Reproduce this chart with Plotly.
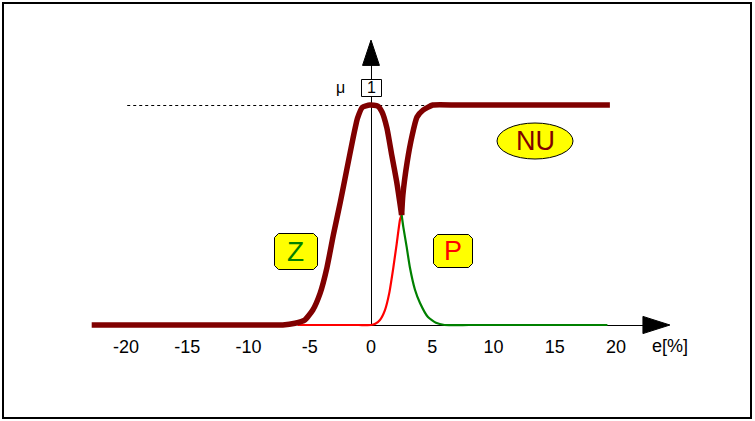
import plotly.graph_objects as go

# ---- data ----
tick_vals = [-20, -15, -10, -5, 0, 5, 10, 15, 20]
tick_text = ["-20", "-15", "-10", "-5", "0", "5", "10", "15", "20"]

# thick dark-red curve, part 1 (flat, rise to 1, fall to crossing)
thick1_x = [-22.8, -18.0, -13.0, -9.0, -7.2, -6.2, -5.4, -4.75, -4.15, -3.6, -3.07, -2.5, -2.0, -1.5, -1.1, -0.7, -0.1, 0.55, 0.9, 1.3, 1.7, 2.1, 2.5]
thick1_y = [0.0, 0.0, 0.0, 0.0, 0.0, 0.008, 0.023, 0.068, 0.145, 0.26, 0.41, 0.56, 0.70, 0.84, 0.94, 0.99, 1.0, 0.995, 0.968, 0.895, 0.77, 0.65, 0.5]
# thick dark-red curve, part 2 (NU: crossing up to 1, flat)
thick2_x = [2.5, 2.6, 2.95, 3.35, 3.75, 4.25, 5.05, 7.0, 10.0, 14.0, 19.5]
thick2_y = [0.5, 0.59, 0.74, 0.86, 0.945, 0.977, 1.0, 1.0, 1.0, 1.0, 1.0]

# thin red curve (P)
red_x = [-6.0, -3.0, -1.0, 0.0, 0.35, 0.73, 1.14, 1.49, 1.82, 2.1, 2.37, 2.5]
red_y = [0.0, 0.0, 0.0, 0.0, 0.006, 0.023, 0.068, 0.145, 0.26, 0.37, 0.48, 0.5]
# thin green curve (Z tail)
green_x = [2.5, 2.64, 2.91, 3.18, 3.59, 4.0, 4.65, 5.3, 6.0, 8.0, 12.0, 16.0, 19.3]
green_y = [0.5, 0.445, 0.355, 0.26, 0.16, 0.10, 0.036, 0.01, 0.0, 0.0, 0.0, 0.0, 0.0]

DARK = "#800000"
RED = "#ff0000"
GREEN = "#008000"
FONT = "Liberation Sans, Arial, sans-serif"

W, H = 755, 421
X0PX, PXX = 371, 12.25   # pixel of x=0, pixels per unit
Y0PX, PXY = 325, 220     # pixel of y=0, pixels per unit
xr = [-X0PX / PXX, (W - X0PX) / PXX]
yr = [-(H - Y0PX) / PXY, Y0PX / PXY]
HX = 0.5 / PXX   # half pixel in x data units (crisp 1px lines)
HY = 0.5 / PXY   # half pixel in y data units

fig = go.Figure()
fig.add_trace(go.Scatter(x=red_x, y=red_y, mode="lines", line=dict(color=RED, width=2.2, shape="spline", smoothing=0.5), hoverinfo="skip"))
fig.add_trace(go.Scatter(x=green_x, y=green_y, mode="lines", line=dict(color=GREEN, width=2.2, shape="spline", smoothing=0.5), hoverinfo="skip"))
fig.add_trace(go.Scatter(x=thick1_x, y=thick1_y, mode="lines", line=dict(color=DARK, width=5.5, shape="spline", smoothing=0.5), hoverinfo="skip"))
fig.add_trace(go.Scatter(x=thick2_x, y=thick2_y, mode="lines", line=dict(color=DARK, width=5.5, shape="spline", smoothing=0.5), hoverinfo="skip"))

shapes = []
# x axis line and arrow
shapes.append(dict(type="line", xref="x", yref="y", x0=0, x1=22.3, y0=-HY, y1=-HY, line=dict(color="black", width=1), layer="below"))
shapes.append(dict(type="path", xref="x", yref="y", path="M 22.2 0.039 L 24.4 0 L 22.2 -0.039 Z", fillcolor="black", line=dict(color="black", width=1)))
# y axis line and arrow
shapes.append(dict(type="line", xref="x", yref="y", x0=HX, x1=HX, y0=0, y1=1.19, line=dict(color="black", width=1), layer="below"))
shapes.append(dict(type="path", xref="x", yref="y", path="M -0.69 1.18 L 0 1.295 L 0.69 1.18 Z", fillcolor="black", line=dict(color="black", width=1)))
# dashed level-1 line
shapes.append(dict(type="line", xref="x", yref="y", x0=-19.9, x1=5.0, y0=1 - HY, y1=1 - HY, line=dict(color="black", width=1, dash="3px,3px"), layer="below"))

def chamfer_box(x0, x1, y0, y1, cx, cy):
    return (f"M {x0+cx} {y0} L {x1-cx} {y0} L {x1} {y0+cy} L {x1} {y1-cy} L {x1-cx} {y1} "
            f"L {x0+cx} {y1} L {x0} {y1-cy} L {x0} {y0+cy} Z")

def px2x(p):
    return (p - X0PX) / PXX

def py2y(p):
    return (Y0PX - p) / PXY

cx, cy = 4 / PXX, 4 / PXY
# Z box
shapes.append(dict(type="path", xref="x", yref="y",
                   path=chamfer_box(px2x(274.5), px2x(317.5), py2y(269.5), py2y(233.5), cx, cy),
                   fillcolor="#ffff00", line=dict(color="black", width=1)))
# P box
shapes.append(dict(type="path", xref="x", yref="y",
                   path=chamfer_box(px2x(433.5), px2x(472.5), py2y(267.5), py2y(234.5), cx, cy),
                   fillcolor="#ffff00", line=dict(color="black", width=1)))
# NU ellipse
shapes.append(dict(type="circle", xref="x", yref="y", x0=px2x(497), x1=px2x(573), y0=py2y(159), y1=py2y(123),
                   fillcolor="#ffff00", line=dict(color="black", width=1)))
# "1" box
shapes.append(dict(type="rect", xref="x", yref="y", x0=px2x(361.5), x1=px2x(381.5), y0=py2y(96.5), y1=py2y(79.5),
                   fillcolor="white", line=dict(color="black", width=1)))
# outer frame
shapes.append(dict(type="rect", xref="paper", yref="paper", x0=3 / W, x1=751 / W, y0=1 - 418 / H, y1=1 - 3 / H,
                   line=dict(color="black", width=2)))

annotations = [
    dict(x=px2x(295.5), y=py2y(251), text="Z", font=dict(family=FONT, size=28, color=GREEN)),
    dict(x=px2x(452.5), y=py2y(250.5), text="P", font=dict(family=FONT, size=27, color=RED)),
    dict(x=px2x(535), y=py2y(141), text="NU", font=dict(family=FONT, size=27, color=DARK)),
    dict(x=px2x(371.5), y=py2y(87.5), text="1", font=dict(family=FONT, size=16, color="black")),
    dict(x=px2x(340), y=py2y(87), text="μ", font=dict(family=FONT, size=16, color="black")),
    dict(x=px2x(670), y=py2y(346), text="e[%]", font=dict(family=FONT, size=18, color="black")),
]
for a in annotations:
    a.update(xref="x", yref="y", showarrow=False, xanchor="center", yanchor="middle")

fig.update_layout(
    width=W, height=H,
    margin=dict(l=0, r=0, t=0, b=0),
    paper_bgcolor="white", plot_bgcolor="white",
    showlegend=False,
    shapes=shapes, annotations=annotations,
    xaxis=dict(range=xr, showgrid=False, zeroline=False, showline=False,
               tickvals=tick_vals, ticktext=tick_text, ticks="outside", ticklen=5,
               tickcolor="rgba(0,0,0,0)", tickfont=dict(family=FONT, size=18, color="black"),
               anchor="free", position=(H - Y0PX) / H, fixedrange=True),
    yaxis=dict(range=yr, visible=False, fixedrange=True),
)

fig.write_html("out.html", config={"displayModeBar": False},
               post_script="document.body.style.margin='0';document.body.style.padding='0';document.body.style.overflow='hidden';")
